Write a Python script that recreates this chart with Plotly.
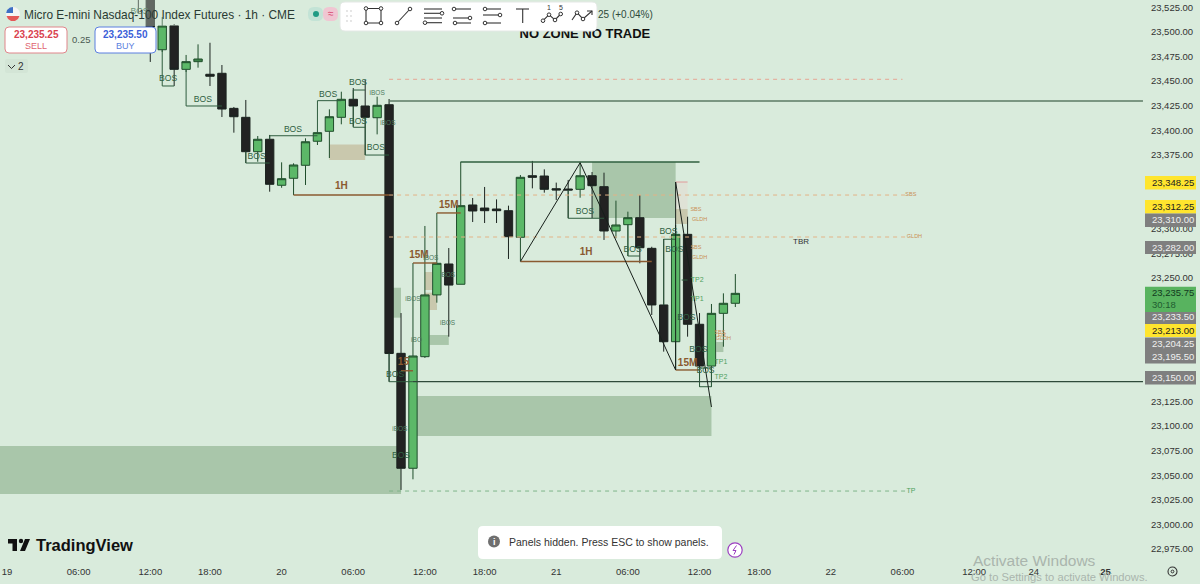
import plotly.graph_objects as go

# ---------- data ----------
bar_index = list(range(11, 62))
opens = [23545, 23540, 23481.9, 23506.3, 23462, 23469.8, 23457, 23458, 23422.4, 23413.3, 23378.4, 23391, 23344.3, 23351.4, 23364.6, 23389, 23399.1, 23413.3, 23431.6, 23424.8, 23412.9, 23426.1, 23173.7, 23057, 23170.3, 23233, 23264.4, 23243.8, 23324.3, 23321.2, 23320.2, 23318.5, 23291.5, 23354, 23353.7, 23340.8, 23340.5, 23340.2, 23354, 23342.9, 23297.9, 23304.3, 23311.4, 23280.3, 23222.8, 23185.5, 23294.5, 23203.2, 23160.8, 23214.3, 23224.5]
highs = [23550, 23545, 23515.1, 23508, 23476.6, 23487.4, 23489, 23466.4, 23423.8, 23430.9, 23394.3, 23395.4, 23367.6, 23366.6, 23392, 23398.7, 23421.4, 23439.3, 23443, 23451.2, 23434.3, 23431.9, 23214.6, 23265.4, 23303, 23316.2, 23280.6, 23368.2, 23331.4, 23342.6, 23330, 23323.6, 23354.7, 23369, 23360.5, 23347, 23349.7, 23367.2, 23357.8, 23357.1, 23328.7, 23317.5, 23334.4, 23281.9, 23289.8, 23304, 23312.4, 23214.6, 23223.8, 23234.6, 23254.2]
lows = [23519.2, 23469.5, 23479.6, 23445.1, 23459.3, 23463.7, 23445.1, 23413.6, 23397.7, 23366.9, 23368.2, 23337.8, 23341.8, 23334.4, 23344.6, 23385.2, 23372, 23406.2, 23403.8, 23375, 23396, 23144.9, 23035, 23045.8, 23169, 23225.1, 23190.6, 23243.8, 23307, 23306, 23306, 23269.5, 23267.4, 23341.2, 23336.8, 23329.4, 23311, 23331.7, 23311, 23288.8, 23290.5, 23272.5, 23265.1, 23212.6, 23175.4, 23156.8, 23190.6, 23139.8, 23139.8, 23180.4, 23220.7]
closes = [23538, 23505, 23506, 23462, 23469.8, 23472.5, 23455, 23421.7, 23413.9, 23378.4, 23391, 23345.3, 23351, 23364.9, 23388.5, 23397.7, 23413.9, 23431.6, 23424.8, 23413.3, 23425.5, 23173.5, 23057, 23171, 23233, 23265.1, 23243, 23323.6, 23318.2, 23318.5, 23318.5, 23292.1, 23352.4, 23352.4, 23340.2, 23339.5, 23339.5, 23354, 23343.9, 23297.9, 23304, 23311.4, 23280.9, 23222.8, 23185.5, 23294.5, 23203.2, 23160.8, 23214.3, 23224.5, 23234.6]

price_ticks = [23525 - 25 * k for k in range(23)]
price_tick_text = [f"{p:,.2f}" for p in price_ticks]
time_ticks = [0, 6, 12, 17, 23, 29, 35, 40, 46, 52, 58, 63, 69, 75, 81, 86, 92]
time_labels = ["19", "06:00", "12:00", "18:00", "20", "06:00", "12:00", "18:00", "21", "06:00", "12:00", "18:00", "22", "06:00", "12:00", "24", "<b>25</b>"]

# zones: bar start, bar end, price top, price bottom
green_zones = [(-1, 33, 23079.6, 23031), (34.3, 59, 23130.4, 23089.8), (49, 56, 23368, 23311.1),
               (32.1, 33, 23240.3, 23209.9), (35.4, 36, 23222.8, 23217.7), (35.4, 37, 23192.3, 23182.2),
               (59.4, 60, 23185.2, 23175)]
tan_zones = [(27, 30, 23385.7, 23370), (35, 35.6, 23256.3, 23238), (35, 36, 23235.3, 23217.7), (56, 57, 23320.2, 23305)]
pale_zones = [(56, 57, 23347.6, 23306)]

# structure brackets
bos_paths = [
    [(13, 23481.9), (13, 23445.1), (14, 23445.1)],
    [(15, 23462), (15, 23424.8), (18, 23424.8)],
    [(20, 23378.4), (20, 23366.9), (22, 23366.9)],
    [(22, 23391), (22, 23394.6), (26, 23394.6)],
    [(26, 23397.7), (26, 23430.2), (28, 23430.2)],
    [(29, 23431.6), (29, 23441), (30, 23441)],
    [(29, 23424.8), (29, 23403.2), (30, 23403.2)],
    [(30, 23413.3), (30, 23375), (32, 23375)],
    [(47, 23339.5), (47, 23310.8), (50, 23310.8)],
    [(52, 23304.3), (52, 23272.5), (53, 23272.5)],
    [(55, 23222.8), (55, 23289.5), (56, 23289.5)],
    [(58, 23158.8), (59, 23158.8), (59, 23139.8), (58, 23139.8), (58, 23158.8)],
    [(56.5, 23248.1), (57, 23248.1)],
    [(32, 23173.5), (32, 23144.9), (34, 23144.9)],
]
brown_paths = [
    [(24, 23334.4), (32, 23334.4)], [(43, 23266.9), (54, 23266.9)], [(36, 23316.2), (38, 23316.2)],
    [(34, 23265.4), (36, 23265.4)], [(56, 23156.8), (58, 23156.8)], [(33, 23156), (34, 23156)],
]
trend_paths = [
    [(43, 23266.9), (48, 23367.2), (56, 23156.8)],
    [(56, 23156.8), (56, 23347.6), (59, 23119.2)],
]
right_end = 95.14
level_main = 23429.9
level_low = 23144.9
level_zone_top = 23367.9
dash_salmon = 23451.9
dash_orange = [23334.4, 23291.8]
dash_green = 23033.9
red_level = 23347.6

bos_x = [11.1, 13.5, 16.4, 23.95, 20.9, 26.9, 29.4, 29.4, 30.9, 32.5, 33, 48.4, 52.4, 55.4, 55.9, 56.9, 57.9, 58.5]
bos_y = [23520.2, 23452.2, 23430.9, 23400.4, 23373, 23436, 23448.1, 23408.5, 23382.2, 23151.7, 23069.5, 23317.5, 23278.6, 23297.2, 23278.6, 23209.6, 23177.1, 23155.8]
ibos_x = [31, 31.9, 32.9, 34, 34.3, 36.9, 35.5, 36.9]
ibos_y = [23438, 23407.5, 23096.9, 23228.8, 23187.2, 23204.5, 23270.5, 23253.2]
ibos_text = ["iBOS", "iBOS", "iBOS", "iBOS", "iBO", "iBOS", "iBOS", "iBOS"]
brown_x = [28, 48.5, 37, 34.5, 57]
brown_y = [23342.6, 23275.6, 23323.3, 23273.5, 23162.9]
brown_text = ["1H", "1H", "15M", "15M", "15M"]
tp_x = [57.8, 57.8, 59.8, 59.8, 75.7]
tp_y = [23248.1, 23228.9, 23164.2, 23149.7, 23033.9]
tp_text = ["TP2", "TP1", "TP1", "TP2", "TP"]
liq_x = [57.7, 57.7, 75.7, 58, 58, 76, 59.7, 59.9, 60]
liq_y = [23319.2, 23280.9, 23334.4, 23309, 23270.8, 23291.8, 23194.3, 23191.3, 23188.2]
liq_text = ["SBS", "SBS", "SBS", "GLDH", "GLDH", "GLDH", "SBS", "FIX", "GLDH"]
tag_text = ["23,348.25", "23,312.25", "23,310.00", "23,282.00", "23,235.75", "30:18", "23,233.50", "23,213.00", "23,204.25", "23,195.50", "23,150.00"]

# ---------- layout constants ----------
BG = "#d9ebdc"
W_PLOT, H_PLOT = 1143, 560
FONT = "Liberation Sans"
PX_PER_BAR = 11.94
XMIN = -7 / PX_PER_BAR
YTOP = 23532.4
PTS_PER_PX = 1.0152
YBOT = YTOP - PTS_PER_PX * H_PLOT


def nx(px):
    return px / W_PLOT


def ny(py):
    return 1 - py / H_PLOT


fig = go.Figure()

shapes = []
annos = []


def zone(z, color, layer="below"):
    shapes.append(dict(type="rect", xref="x", yref="y", x0=z[0], x1=z[1], y0=z[3], y1=z[2],
                       fillcolor=color, line_width=0, layer=layer))


for z in green_zones:
    zone(z, "#a9c6aa")
for z in pale_zones:
    zone(z, "#dfe2d6")
for z in tan_zones:
    zone(z, "#c9c8ad")


def path_trace(paths, color, width, dash="solid"):
    xs, ys = [], []
    for p in paths:
        xs += [q[0] for q in p] + [None]
        ys += [q[1] for q in p] + [None]
    fig.add_trace(go.Scatter(x=xs, y=ys, mode="lines", line=dict(color=color, width=width, dash=dash),
                             showlegend=False, hoverinfo="skip"))


def text_trace(x, y, text, color, size, family=FONT):
    fig.add_trace(go.Scatter(x=x, y=y, text=text, mode="text", textposition="middle center",
                             textfont=dict(color=color, size=size, family=family),
                             showlegend=False, hoverinfo="skip", cliponaxis=False))


text_trace(brown_x, brown_y, [f"<b>{t}</b>" for t in brown_text], "#8a5a30", 10)

fig.add_trace(go.Candlestick(
    x=bar_index, open=opens, high=highs, low=lows, close=closes,
    increasing=dict(line=dict(color="#1f4d2b", width=1), fillcolor="#5cb868"),
    decreasing=dict(line=dict(color="#1c2420", width=1), fillcolor="#222222"),
    whiskerwidth=0, showlegend=False, hoverinfo="skip"))

path_trace(bos_paths, "#2e5c3e", 1)
path_trace([[(32, level_main), (right_end, level_main)]], "#5b7a65", 1.5)
path_trace([[(34, level_low), (right_end, level_low)]], "#2f4a3a", 1.2)
path_trace([[(38, level_zone_top), (58, level_zone_top)]], "#2f5f3f", 1.6)
path_trace([[(32, dash_salmon), (75, dash_salmon)]], "#e6a593", 1, "4px,4px")
path_trace([[(32, v), (75.3, v)] for v in dash_orange], "#e3b386", 1, "4px,4px")
path_trace([[(32, dash_green), (75.3, dash_green)]], "#7fb58a", 1, "4px,4px")
path_trace(brown_paths, "#8a5a30", 1.4)
path_trace([[(56, red_level), (57, red_level)]], "#e09a9a", 1)
path_trace(trend_paths, "#17201b", 1)

text_trace(bos_x, bos_y, ["BOS"] * len(bos_x), "#2f5f41", 8.6)
text_trace(ibos_x, ibos_y, ibos_text, "#4d7a5c", 6.5)
text_trace([33.2], [23163.9], ["<b>15</b>"], "#8a5a30", 10)
text_trace(tp_x, tp_y, tp_text, "#4fa060", 7)
text_trace(liq_x, liq_y, liq_text, "#c98f55", 5.5)
text_trace([66.5], [23286.7], ["TBR"], "#333333", 8)
text_trace([48.4], [23497.2], ["<b>NO ZONE NO TRADE</b>"], "#111111", 13)


# ---------- interface chrome, placed in screen terms ----------
def rrect(x0, y0, x1, y1, r, fill, line="rgba(0,0,0,0)", lw=0):
    X0, X1, Y0, Y1 = nx(x0), nx(x1), ny(y0), ny(y1)
    rx, ry = r / W_PLOT, r / H_PLOT
    d = (f"M {X0+rx} {Y0} L {X1-rx} {Y0} Q {X1} {Y0} {X1} {Y0-ry} L {X1} {Y1+ry} Q {X1} {Y1} {X1-rx} {Y1} "
         f"L {X0+rx} {Y1} Q {X0} {Y1} {X0} {Y1+ry} L {X0} {Y0-ry} Q {X0} {Y0} {X0+rx} {Y0} Z")
    shapes.append(dict(type="path", path=d, xref="paper", yref="paper", fillcolor=fill,
                       line=dict(color=line, width=lw), layer="above"))


def rect(x0, y0, x1, y1, fill):
    shapes.append(dict(type="rect", xref="paper", yref="paper", x0=nx(x0), x1=nx(x1), y0=ny(y1), y1=ny(y0),
                       fillcolor=fill, line_width=0, layer="above"))


def poly(pts, color="#333333", lw=1.1, fill=None, close=False):
    d = "M " + " L ".join(f"{nx(a)} {ny(b)}" for a, b in pts) + (" Z" if close else "")
    s = dict(type="path", path=d, xref="paper", yref="paper", line=dict(color=color, width=lw), layer="above")
    if fill:
        s["fillcolor"] = fill
    shapes.append(s)


def dot(x, y, r=2, fill="#ffffff", line="#333333", lw=1):
    shapes.append(dict(type="circle", xref="paper", yref="paper", x0=nx(x - r), x1=nx(x + r), y0=ny(y + r), y1=ny(y - r),
                       fillcolor=fill, line=dict(color=line, width=lw), layer="above"))


def label(x, y, text, size, color, anchor="center", family=FONT):
    annos.append(dict(xref="paper", yref="paper", x=nx(x), y=ny(y), text=text, showarrow=False, xanchor=anchor,
                      yanchor="middle", font=dict(size=size, color=color, family=family)))


# fade behind the title strip
rect(0, 0, 340, 26, "rgba(217,235,220,0.35)")

# flag
dot(13, 14, 7, "#f4f4f4", "rgba(0,0,0,0)", 0)
poly([(6.5, 16), (19.5, 16), (18, 19), (15, 21), (11, 21), (8, 19)], "#e45858", 0, "#e45858", True)
poly([(7, 10), (10, 7.5), (13, 7), (13, 13), (6.2, 13)], "#3d6fc4", 0, "#3d6fc4", True)
label(21.5, 14.5, "Micro E-mini Nasdaq-100 Index Futures · 1h · CME", 11.9, "#2a3a33", "left")
rrect(308, 7, 323, 21, 6, "#c3e3d6")
rrect(323, 7, 338, 21, 6, "#f0c6d2")
dot(316, 14, 3, "#1f9b84", "#1f9b84", 0)
label(330.5, 13.5, "≈", 10, "#d8416b")

# order buttons
rrect(5, 27, 67, 53, 4, "#ffffff", "#e0858a", 1)
label(36, 34.5, "<b>23,235.25</b>", 10, "#d9434f")
label(36, 45.5, "SELL", 9, "#e0656f")
label(81, 39.5, "0.25", 9.5, "#4a5a52")
rrect(95, 27, 156, 53, 4, "#ffffff", "#5b7fe0", 1)
label(125.5, 34.5, "<b>23,235.50</b>", 10, "#3c5fd8")
label(125.5, 45.5, "BUY", 9, "#5b7fe0")
rrect(5, 59, 28, 73, 2, "#d3e5d6")
poly([(8, 65), (11.5, 68.5), (15, 65)], "#333333", 1)
label(21, 66, "2", 10, "#333333")

# drawing toolbar
rrect(340, 2, 597, 31, 5, "#ffffff", "#e4e8e5", 1)
for gx in (347, 351):
    for gy in (11, 16, 21):
        dot(gx, gy, 0.8, "#c4c4c4", "#c4c4c4", 0)
corners = [(366, 8.5), (381, 8.5), (381, 23), (366, 23)]
poly(corners, close=True)
for c in corners:
    dot(*c, 1.8)
poly([(397, 23), (410, 9)])
dot(397, 23, 1.8)
dot(410, 9, 1.8)
for yy in (9, 13.3, 18, 22.7):
    poly([(424, yy), (442, yy)])
dot(442, 13.3, 1.8)
dot(425, 22.7, 1.8)
for yy in (9, 18, 23):
    poly([(453, yy), (471, yy)])
dot(454, 9, 1.8)
dot(470, 18, 1.8)
dot(455, 23, 1.8)
for yy in (9, 15, 23):
    poly([(483, yy), (501, yy)])
dot(485, 9, 1.8)
dot(500, 15, 1.8)
dot(485, 23, 1.8)
poly([(516, 9), (529, 9)])
poly([(522.7, 9), (522.7, 23)])
zz = [(543, 20.7), (549, 14.7), (555, 20), (560.7, 14)]
poly(zz)
for c in zz:
    dot(*c, 1.8)
label(549, 8, "1", 7, "#333333")
label(561, 8, "5", 7, "#333333")
poly([(572, 20), (577, 12.7), (583, 19), (592, 11)])
poly([(587, 11), (592, 11), (592, 15)])
dot(577, 12.7, 1.8)
dot(583, 19, 1.8)
label(596, 14.5, "25 (+0.04%)", 10, "#2d4a3a", "left")

# price tags
tag_geom = [(176, 189.5, "#ffe52e", "#222222"), (200, 213.5, "#ffe52e", "#222222"), (213.5, 227, "#7f7f7f", "#f0f0f0"),
            (241, 254, "#7f7f7f", "#f0f0f0"), (286.7, 312, "#58b35f", "#123a20"), None,
            (312, 324, "#7f7f7f", "#f0f0f0"), (324, 337, "#ffe52e", "#222222"), (337.5, 350, "#7f7f7f", "#f0f0f0"),
            (350, 363.5, "#7f7f7f", "#f0f0f0"), (371, 384.5, "#7f7f7f", "#f0f0f0")]
tag_centre = [182.7, 206.7, 220, 247.5, 292.5, 304.5, 316.7, 330, 343.3, 356.7, 377.7]
for g in tag_geom:
    if g:
        rect(1145, g[0], 1196, g[1], g[2])
for t, c, g in zip(tag_text, tag_centre, tag_geom):
    col = g[3] if g else "#1f5c30"
    label(1150, c, t, 9.5, col, "left")

# logo
rect(8, 539, 17, 543.5, "#111111")
rect(12.5, 539, 17, 551, "#111111")
dot(21, 541, 2.2, "#111111", "#111111", 0)
poly([(25, 539), (30, 539), (25, 551), (20, 551)], "#111111", 0, "#111111", True)
label(34, 545, "<b>TradingView</b>", 16.5, "#111111", "left")

# toast
rrect(478, 526, 722, 559, 5, "#ffffff")
dot(494, 541.5, 6, "#6f6f6f", "#6f6f6f", 0)
label(494, 541.5, "<b>i</b>", 9, "#ffffff")
label(507, 541.5, "Panels hidden. Press ESC to show panels.", 10.5, "#333333", "left")
dot(735, 550, 7.2, "#ffffff", "#9b3fc0", 1.2)
poly([(736.5, 545.5), (733, 550.5), (736, 550.5), (734, 554.5)], "#9b3fc0", 1)

# watermark and gear
label(971, 560, "Activate Windows", 15.5, "#aab5ad", "left")
label(969, 577, "Go to Settings to activate Windows.", 11.2, "#aab5ad", "left")
dot(1172.5, 571.5, 4.5, "rgba(0,0,0,0)", "#333333", 1.1)
dot(1172.5, 571.5, 1.4, "rgba(0,0,0,0)", "#333333", 1)

fig.update_layout(
    width=1200, height=584, autosize=False,
    margin=dict(l=0, r=57, t=0, b=24),
    paper_bgcolor=BG, plot_bgcolor=BG,
    font=dict(family=FONT, color="#333333"),
    showlegend=False, boxgap=0, shapes=shapes, annotations=annos,
    xaxis=dict(range=[XMIN, XMIN + W_PLOT / PX_PER_BAR], tickmode="array", tickvals=time_ticks, ticktext=time_labels,
               showgrid=False, zeroline=False, showline=False, ticks="outside", ticklen=3, tickcolor="rgba(0,0,0,0)", tickangle=0,
               tickfont=dict(size=9.5, color="#333333"), rangeslider=dict(visible=False), fixedrange=True),
    yaxis=dict(range=[YBOT, YTOP], side="right", tickmode="array", tickvals=price_ticks, ticktext=price_tick_text,
               showgrid=False, zeroline=False, showline=False, ticks="outside", ticklen=5, tickcolor="rgba(0,0,0,0)",
               tickfont=dict(size=9.5, color="#333333"), fixedrange=True),
)

fig.write_html("out.html", config=dict(displayModeBar=False),
               post_script="document.body.style.margin='0';document.documentElement.style.overflow='hidden';")
